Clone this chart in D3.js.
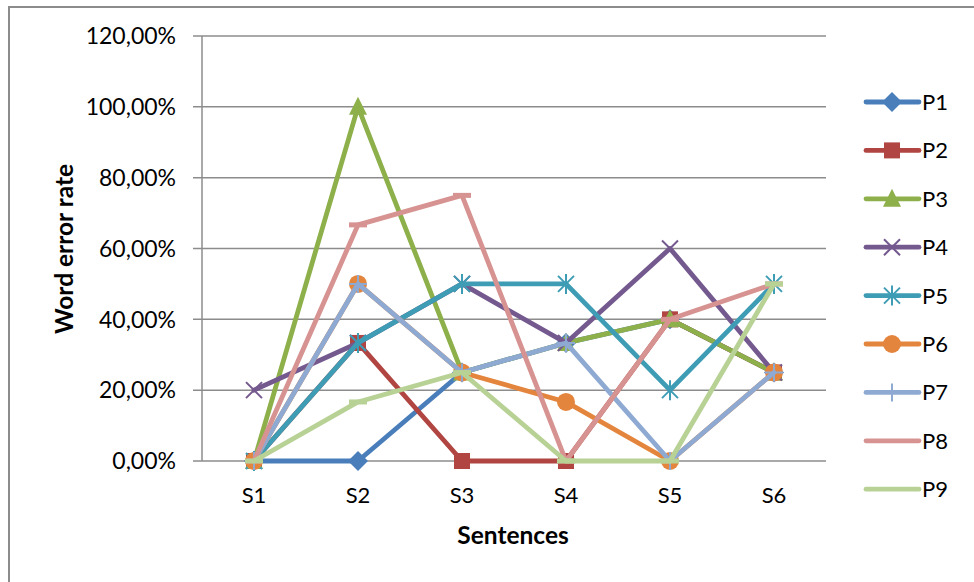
<!DOCTYPE html>
<html><head><meta charset="utf-8">
<script src="https://cdn.jsdelivr.net/npm/d3@7/dist/d3.min.js"></script>
<style>body{margin:0;background:#fff}svg{display:block}text{font-family:Lato,"Open Sans",sans-serif;fill:#000}</style>
</head><body><svg id="c" width="974" height="582"></svg>
<script>
const categories = ["S1","S2","S3","S4","S5","S6"];
const seriesNames = ["P1","P2","P3","P4","P5","P6","P7","P8","P9"];
const P1 = [0, 0, 25, 33.33, 40, 25];
const P2 = [0, 33.33, 0, 0, 40, 25];
const P3 = [0, 100, 25, 33.33, 40, 25];
const P4 = [20, 33.33, 50, 33.33, 60, 25];
const P5 = [0, 33.33, 50, 50, 20, 50];
const P6 = [0, 50, 25, 16.67, 0, 25];
const P7 = [0, 50, 25, 33.33, 0, 25];
const P8 = [0, 66.67, 75, 0, 40, 50];
const P9 = [0, 16.67, 25, 0, 0, 50];
const yTicks = [0, 20, 40, 60, 80, 100, 120];
const colors = ["#4a7ebb","#b04542","#8db04a","#74598f","#3e9cb5","#e4853e","#8ea9d2","#d69391","#b8d195"];
const markers = ["diamond","square","triangle","x","asterisk","circle","plus","dash","dash"];
const values = [P1,P2,P3,P4,P5,P6,P7,P8,P9];

const svg = d3.select("#c");
svg.append("rect").attr("x",9).attr("y",7).attr("width",1000).attr("height",600)
  .attr("fill","none").attr("stroke","#8c8c8c").attr("stroke-width",2);

const L=202, R=826, T=36, B=461;
const x = d3.scaleBand().domain(categories).range([L,R]);
const y = d3.scaleLinear().domain([0,120]).range([B,T]);

svg.append("g").selectAll("line").data(yTicks).join("line")
  .attr("x1",193).attr("x2",R).attr("y1",d=>y(d)).attr("y2",d=>y(d))
  .attr("stroke","#8c8c8c").attr("stroke-width",1.5);
svg.append("line").attr("x1",L).attr("x2",L).attr("y1",T).attr("y2",B)
  .attr("stroke","#8c8c8c").attr("stroke-width",1.5);

const fmt = v => v.toFixed(2).replace(".",",")+"%";
svg.append("g").selectAll("text").data(yTicks).join("text")
  .attr("x",176).attr("y",d=>y(d)).attr("dy","0.36em").attr("text-anchor","end")
  .attr("font-size",23).text(fmt);
svg.append("g").selectAll("text").data(categories).join("text")
  .attr("x",d=>x(d)+x.bandwidth()/2).attr("y",495).attr("dy","0.36em").attr("text-anchor","middle")
  .attr("font-size",22).text(d=>d);

svg.append("text").attr("transform","translate(64,249) rotate(-90)").attr("text-anchor","middle")
  .attr("dy","0.36em").attr("font-size",24.5).attr("font-weight","bold").text("Word error rate");
svg.append("text").attr("x",513).attr("y",535).attr("text-anchor","middle").attr("dy","0.36em")
  .attr("font-size",24.5).attr("font-weight","bold").text("Sentences");

function drawMarker(g, type, cx, cy, color){
  const s = g.append("g").attr("transform",`translate(${cx},${cy})`);
  switch(type){
    case "diamond": s.append("path").attr("d","M0,-10L10,0L0,10L-10,0Z").attr("fill",color); break;
    case "square": s.append("rect").attr("x",-8).attr("y",-8).attr("width",16).attr("height",16).attr("fill",color); break;
    case "triangle": s.append("path").attr("d","M0,-10L9,8L-9,8Z").attr("fill",color); break;
    case "circle": s.append("circle").attr("r",9).attr("fill",color); break;
    case "x": s.append("path").attr("d","M-8,-8L8,8M-8,8L8,-8").attr("stroke",color).attr("stroke-width",2); break;
    case "asterisk": s.append("path").attr("d","M-8,-8L8,8M-8,8L8,-8M0,-10L0,10").attr("stroke",color).attr("stroke-width",2); break;
    case "plus": s.append("path").attr("d","M-9,0L9,0M0,-9L0,9").attr("stroke",color).attr("stroke-width",2); break;
    case "dash": s.append("path").attr("d","M-9,0L9,0").attr("stroke",color).attr("stroke-width",5); break;
  }
}

const line = d3.line().x((d,i)=>x(categories[i])+x.bandwidth()/2).y(d=>y(d));
values.forEach((vals,si)=>{
  const g = svg.append("g");
  g.append("path").attr("d",line(vals)).attr("fill","none").attr("stroke",colors[si])
    .attr("stroke-width",4.8).attr("stroke-linejoin","round").attr("stroke-linecap","round");
  vals.forEach((v,i)=>drawMarker(g, markers[si], x(categories[i])+x.bandwidth()/2, y(v), colors[si]));
});

const lg = svg.append("g");
seriesNames.forEach((n,i)=>{
  const ly = 102 + i*48.4;
  lg.append("line").attr("x1",866).attr("x2",919).attr("y1",ly).attr("y2",ly)
    .attr("stroke",colors[i]).attr("stroke-width",4.8).attr("stroke-linecap","round");
  drawMarker(lg, markers[i]==="dash"?"none":markers[i], 892, ly, colors[i]);
  lg.append("text").attr("x",922).attr("y",ly).attr("dy","0.36em").attr("font-size",22).text(n);
});
</script></body></html>
